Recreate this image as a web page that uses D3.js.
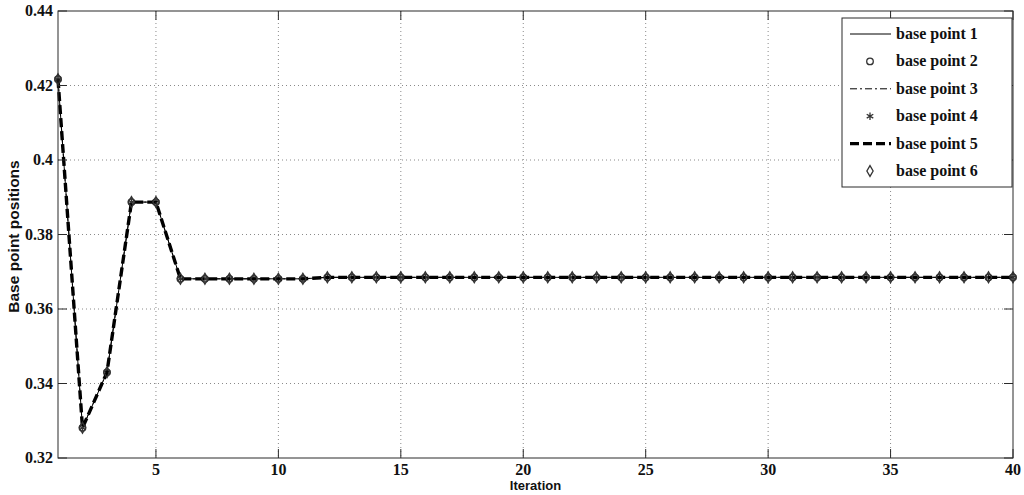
<!DOCTYPE html>
<html>
<head>
<meta charset="UTF-8" />
<script src="https://d3js.org/d3.v7.min.js"></script>
<style>
  body { margin: 0; background: #fff; }
  svg text { fill: #111; }
</style>
</head>
<body>
<div id="chart"></div>
<script>
// ---------- data ----------
const iterations = [1, 2, 3, 4, 5, 6, 7, 8, 9, 10, 11, 12, 13, 14, 15, 16, 17, 18, 19, 20,
  21, 22, 23, 24, 25, 26, 27, 28, 29, 30, 31, 32, 33, 34, 35, 36, 37, 38, 39, 40];

// all six base points converge on the same track, so they overlap in the plot
const positions = [0.4217, 0.3281, 0.3430, 0.3887, 0.3887, 0.3681, 0.3681, 0.3681, 0.3681, 0.3681,
  0.3681, 0.3685, 0.3685, 0.3685, 0.3685, 0.3685, 0.3685, 0.3685, 0.3685, 0.3685,
  0.3685, 0.3685, 0.3685, 0.3685, 0.3685, 0.3685, 0.3685, 0.3685, 0.3685, 0.3685,
  0.3685, 0.3685, 0.3685, 0.3685, 0.3685, 0.3685, 0.3685, 0.3685, 0.3685, 0.3685];

const seriesNames = ["base point 1", "base point 2", "base point 3",
  "base point 4", "base point 5", "base point 6"];
const seriesValues = [positions, positions, positions, positions, positions, positions];

const xTicks = [5, 10, 15, 20, 25, 30, 35, 40];
const yTicks = [0.32, 0.34, 0.36, 0.38, 0.4, 0.42, 0.44];

// ---------- look of each series (matlab-ish) ----------
const styles = [
  { line: true, width: 1, dash: null, marker: null },
  { line: false, marker: "circle" },
  { line: true, width: 1, dash: "7,3,2,3", marker: null },
  { line: false, marker: "star" },
  { line: true, width: 3.4, dash: "9,4", marker: null },
  { line: false, marker: "diamond" },
];

const W = 1024, H = 495;
const m = { left: 58, right: 11, top: 11, bottom: 37 };
const iw = W - m.left - m.right, ih = H - m.top - m.bottom;

const svg = d3.select("#chart").append("svg")
  .attr("width", W).attr("height", H);

const x = d3.scaleLinear().domain([1, 40]).range([m.left, m.left + iw]);
const y = d3.scaleLinear().domain([0.32, 0.44]).range([m.top + ih, m.top]);

const tickFont = "'Liberation Serif', 'Times New Roman', serif";
const labelFont = "'Liberation Sans', Arial, sans-serif";
const axisColor = "#2a2a2a";

// grid
const grid = svg.append("g");
grid.selectAll(".gx").data(xTicks.filter(t => t < 40)).enter().append("line")
  .attr("x1", d => x(d)).attr("x2", d => x(d))
  .attr("y1", m.top).attr("y2", m.top + ih)
  .attr("stroke", "#8a8a8a").attr("stroke-width", 1).attr("stroke-dasharray", "1,3");
grid.selectAll(".gy").data(yTicks.filter(t => t > 0.32 && t < 0.44)).enter().append("line")
  .attr("y1", d => y(d)).attr("y2", d => y(d))
  .attr("x1", m.left).attr("x2", m.left + iw)
  .attr("stroke", "#8a8a8a").attr("stroke-width", 1).attr("stroke-dasharray", "1,3");

// data lines
const pts = vals => iterations.map((it, i) => [it, vals[i]]);
const line = d3.line().x(d => x(d[0])).y(d => y(d[1]));

function markerPath(kind, size) {
  if (kind === "circle") return d3.symbol(d3.symbolCircle, size)();
  if (kind === "diamond") return d3.symbol(d3.symbolDiamond, size)();
  return d3.symbol(d3.symbolAsterisk, size)();
}

const plot = svg.append("g");
seriesNames.forEach((name, k) => {
  const st = styles[k];
  const data = pts(seriesValues[k]);
  if (st.line) {
    plot.append("path").datum(data)
      .attr("d", line)
      .attr("fill", "none")
      .attr("stroke", "#000")
      .attr("stroke-width", st.width)
      .attr("stroke-dasharray", st.dash);
  }
  if (st.marker) {
    plot.selectAll(".mk" + k).data(data).enter().append("path")
      .attr("transform", d => `translate(${x(d[0])},${y(d[1])})`)
      .attr("d", markerPath(st.marker, st.marker === "star" ? 40 : 34))
      .attr("fill", "none")
      .attr("stroke", "#333")
      .attr("stroke-width", 1.3);
  }
});

// box
svg.append("rect")
  .attr("x", m.left).attr("y", m.top).attr("width", iw).attr("height", ih)
  .attr("fill", "none").attr("stroke", axisColor).attr("stroke-width", 1);

// inward ticks on all four sides
const tl = 9;
const ticks = svg.append("g").attr("stroke", axisColor).attr("stroke-width", 1);
xTicks.forEach(t => {
  ticks.append("line").attr("x1", x(t)).attr("x2", x(t))
    .attr("y1", m.top + ih).attr("y2", m.top + ih - tl);
  ticks.append("line").attr("x1", x(t)).attr("x2", x(t))
    .attr("y1", m.top).attr("y2", m.top + tl);
});
yTicks.forEach(t => {
  ticks.append("line").attr("y1", y(t)).attr("y2", y(t))
    .attr("x1", m.left).attr("x2", m.left + tl);
  ticks.append("line").attr("y1", y(t)).attr("y2", y(t))
    .attr("x1", m.left + iw).attr("x2", m.left + iw - tl);
});

// tick labels
svg.append("g").selectAll("text").data(xTicks).enter().append("text")
  .attr("x", d => x(d)).attr("y", m.top + ih + 17)
  .attr("text-anchor", "middle")
  .style("font-family", tickFont).style("font-weight", "bold").style("font-size", "16px")
  .text(d => d);
svg.append("g").selectAll("text").data(yTicks).enter().append("text")
  .attr("x", m.left - 5).attr("y", d => y(d) + 5)
  .attr("text-anchor", "end")
  .style("font-family", tickFont).style("font-weight", "bold").style("font-size", "16px")
  .text(d => d3.format("")(d));

// axis titles
svg.append("text")
  .attr("x", m.left + iw / 2).attr("y", 490)
  .attr("text-anchor", "middle")
  .style("font-family", labelFont).style("font-weight", "bold").style("font-size", "13px")
  .text("Iteration");
svg.append("text")
  .attr("transform", `translate(19,${m.top + ih / 2 + 2}) rotate(-90)`)
  .attr("text-anchor", "middle")
  .style("font-family", labelFont).style("font-weight", "bold").style("font-size", "15.5px")
  .text("Base point positions");

// legend
const lg = svg.append("g");
lg.append("rect")
  .attr("x", 842).attr("y", 18).attr("width", 170).attr("height", 169)
  .attr("fill", "#fff").attr("stroke", axisColor).attr("stroke-width", 1);
seriesNames.forEach((name, k) => {
  const st = styles[k];
  const cy = 34 + k * 27.4;
  if (st.line) {
    lg.append("line")
      .attr("x1", 850).attr("x2", 891).attr("y1", cy).attr("y2", cy)
      .attr("stroke", "#000").attr("stroke-width", st.width)
      .attr("stroke-dasharray", st.dash);
  }
  if (st.marker) {
    lg.append("path")
      .attr("transform", `translate(870,${cy})`)
      .attr("d", markerPath(st.marker, st.marker === "star" ? 40 : 34))
      .attr("fill", "none").attr("stroke", "#333").attr("stroke-width", 1.3);
  }
  lg.append("text")
    .attr("x", 896).attr("y", cy + 5)
    .style("font-family", tickFont).style("font-weight", "bold").style("font-size", "16px")
    .text(name);
});
</script>
</body>
</html>
